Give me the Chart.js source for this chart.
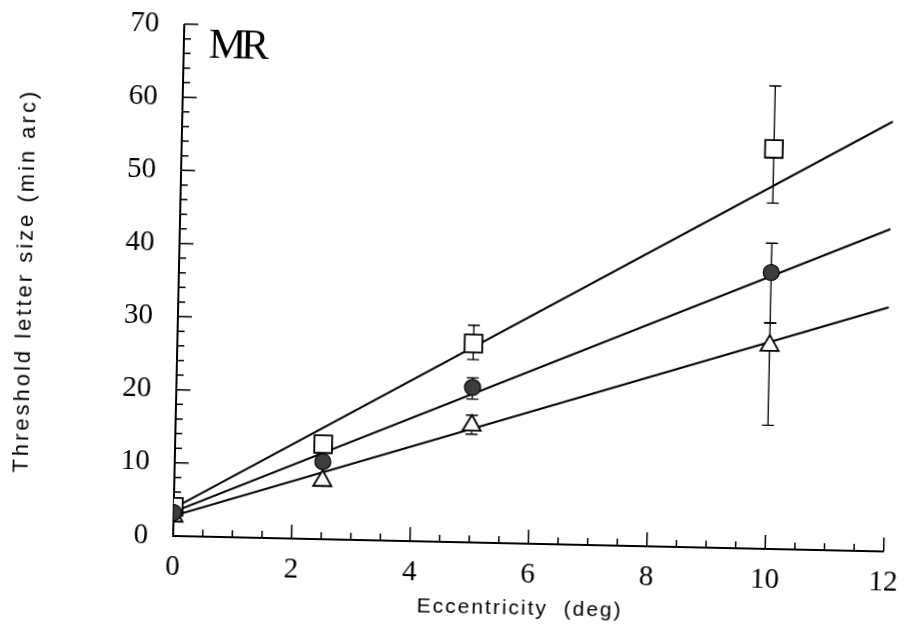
<!DOCTYPE html>
<html>
<head>
<meta charset="utf-8">
<script src="https://cdn.jsdelivr.net/npm/chart.js@4/dist/chart.umd.min.js"></script>
<style>
  html, body { margin: 0; padding: 0; background: #fff; overflow: hidden; }
  /* the printed figure sits slightly skewed on the page */
  #wrap { width: 903px; height: 631px; transform: rotate(1.25deg); transform-origin: 50% 50%; }
</style>
</head>
<body>
<div id="wrap"><canvas id="sizeChart"></canvas></div>
<script>
// eccentricity (deg) for the measured points
const ecc = [0, 2.5, 5, 10];

// threshold letter size (min arc), one array per condition
const squareVals = [4.0, 13.0, 27.2, 54.7];
const circleVals = [3.2, 10.6, 21.2, 37.8];
const triangleVals = [2.7, 8.0, 16.0, 27.8];

// error bar ends [low, high]; null = no visible bar
const squareErr = [null, null, [25.0, 29.7], [47.3, 63.3]];
const circleErr = [null, null, [19.6, 22.5], [30.9, 41.8]];
const triangleErr = [null, null, [14.8, 17.4], [16.9, 30.9]];

// fitted lines, value at x = 0 and x = 12
const fitX = [0, 12];
const squareFit = [3.8, 58.8];
const circleFit = [3.3, 44.1];
const triangleFit = [2.75, 33.4];

const xTicks = [0, 2, 4, 6, 8, 10, 12];
const yTicks = [0, 10, 20, 30, 40, 50, 60, 70];

const pts = (xs, ys) => xs.map((x, i) => ({ x: x, y: ys[i] }));

function fitLine(vals) {
    return {
        data: pts(fitX, vals),
        showLine: true,
        borderColor: '#000',
        borderWidth: 2,
        pointRadius: 0,
        order: 2
    };
}

// axes with inward ticks, error bars and axis titles
const paperAxes = {
    id: 'paperAxes',
    beforeDatasetsDraw(chart) {
        const ctx = chart.ctx;
        const xs = chart.scales.x, ys = chart.scales.y;
        const x0 = xs.getPixelForValue(0), x1 = xs.getPixelForValue(12);
        const y0 = ys.getPixelForValue(0), y1 = ys.getPixelForValue(70);
        ctx.save();
        ctx.strokeStyle = '#000';
        ctx.lineWidth = 2;
        ctx.beginPath();
        ctx.moveTo(x0, y1); ctx.lineTo(x0, y0); ctx.lineTo(x1, y0);
        ctx.stroke();
        ctx.lineWidth = 1.5;
        ctx.beginPath();
        for (let v = 0; v <= 70; v += 2) {
            const p = ys.getPixelForValue(v);
            const len = v % 10 === 0 ? 14 : 7;
            ctx.moveTo(x0, p); ctx.lineTo(x0 + len, p);
        }
        for (let v = 0; v <= 12; v += 0.5) {
            const p = xs.getPixelForValue(v);
            const len = v % 2 === 0 ? 14 : 7;
            ctx.moveTo(p, y0); ctx.lineTo(p, y0 - len);
        }
        ctx.stroke();

        // error bars
        ctx.lineWidth = 1.3;
        [squareErr, circleErr, triangleErr].forEach(errs => {
            errs.forEach((e, i) => {
                if (!e) return;
                const px = xs.getPixelForValue(ecc[i]);
                const lo = ys.getPixelForValue(e[0]), hi = ys.getPixelForValue(e[1]);
                ctx.beginPath();
                ctx.moveTo(px, lo); ctx.lineTo(px, hi);
                ctx.moveTo(px - 6, lo); ctx.lineTo(px + 6, lo);
                ctx.moveTo(px - 6, hi); ctx.lineTo(px + 6, hi);
                ctx.stroke();
            });
        });

        // titles
        ctx.fillStyle = '#000';
        ctx.textAlign = 'center';
        ctx.textBaseline = 'middle';
        ctx.font = '21px "Liberation Sans", Arial, sans-serif';
        ctx.letterSpacing = '2px';
        ctx.fillText('Eccentricity  (deg)', 526, 607);
        ctx.font = '22px "Liberation Sans", Arial, sans-serif';
        ctx.letterSpacing = '3px';
        ctx.translate(25, 290);
        ctx.rotate(-Math.PI / 2);
        ctx.fillText('Threshold letter size (min arc)', 0, 0);
        ctx.restore();

        ctx.save();
        ctx.fillStyle = '#000';
        ctx.font = '42px "Liberation Serif", "Times New Roman", serif';
        ctx.textBaseline = 'alphabetic';
        ctx.letterSpacing = '-5px';
        ctx.fillText('MR', 203, 63);
        ctx.restore();
    }
};

const tickFont = { family: '"Liberation Serif", "Times New Roman", serif', size: 29 };

const ctx = document.getElementById('sizeChart').getContext('2d');

const sizeChart = new Chart(ctx, {
    type: 'scatter',
    data: {
        datasets: [
            fitLine(squareFit),
            fitLine(circleFit),
            fitLine(triangleFit),
            {
                data: pts(ecc, squareVals),
                pointStyle: 'rect',
                pointRadius: 12.5,
                backgroundColor: '#fff',
                borderColor: '#000',
                borderWidth: 1.8,
                order: 1
            },
            {
                data: pts(ecc, circleVals),
                pointStyle: 'circle',
                pointRadius: 8,
                backgroundColor: '#3c3c3c',
                borderColor: '#000',
                borderWidth: 1.2,
                order: 0
            },
            {
                data: pts(ecc, triangleVals),
                pointStyle: 'triangle',
                pointRadius: 10.5,
                backgroundColor: '#fff',
                borderColor: '#000',
                borderWidth: 1.8,
                order: 0
            }
        ]
    },
    options: {
        responsive: true,
        maintainAspectRatio: false,
        animation: false,
        layout: {
            padding: { left: 0, right: 13, top: 30, bottom: 0 }
        },
        plugins: {
            legend: { display: false },
            tooltip: { enabled: false }
        },
        scales: {
            x: {
                type: 'linear',
                min: 0,
                max: 12,
                afterBuildTicks: s => { s.ticks = xTicks.map(v => ({ value: v })); },
                afterFit: s => { s.height = 89; s.paddingLeft = 0; s.paddingRight = 0; },
                grid: { display: false, drawTicks: false },
                border: { display: false },
                ticks: { padding: 14, color: '#000', font: tickFont }
            },
            y: {
                type: 'linear',
                min: 0,
                max: 70,
                afterBuildTicks: s => { s.ticks = yTicks.map(v => ({ value: v })); },
                afterFit: s => { s.width = 178; s.paddingTop = 0; s.paddingBottom = 0; },
                grid: { display: false, drawTicks: false },
                border: { display: false },
                ticks: { padding: 25, color: '#000', font: tickFont }
            }
        }
    },
    plugins: [paperAxes]
});
</script>
</body>
</html>
